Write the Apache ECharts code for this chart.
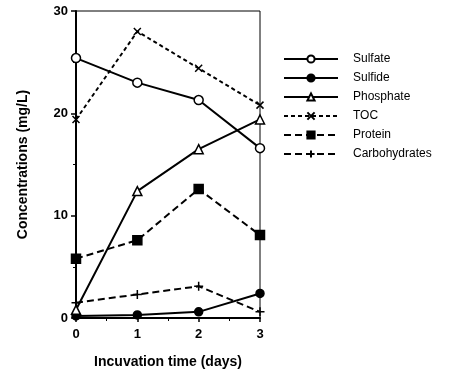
<!DOCTYPE html>
<html><head><meta charset="utf-8">
<script src="https://cdn.jsdelivr.net/npm/echarts@6/dist/echarts.min.js"></script>
<style>html,body{margin:0;padding:0;background:#fff}#c{width:465px;height:374px}</style>
</head><body><div id="c"></div>
<script>
const days = [0, 1, 2, 3];
const sulfate = [25.4, 23.0, 21.3, 16.6];
const sulfide = [0.2, 0.3, 0.6, 2.4];
const phosphate = [0.8, 12.4, 16.5, 19.4];
const toc = [19.4, 28.0, 24.4, 20.8];
const protein = [5.8, 7.6, 12.6, 8.1];
const carbohydrates = [1.5, 2.3, 3.1, 0.6];
const yTicks = [0, 10, 20, 30];

const FONT = 'Liberation Sans, Arial, sans-serif';
const xPath = 'path://M0,0L10,10M10,0L0,10';
const plusPath = 'path://M5,0L5,10M0,5L10,5';

function mk(name, vals, symbol, fill, dash, size) {
  return {
    name, type: 'line', data: days.map((d, i) => [d, vals[i]]),
    symbol, symbolSize: size, showAllSymbol: true,
    lineStyle: { color: '#000', width: 2, type: dash },
    itemStyle: { color: fill, borderColor: '#000', borderWidth: 1.5 },
    emphasis: { disabled: true }, animation: false
  };
}

const chart = echarts.init(document.getElementById('c'), null, { renderer: 'canvas' });
chart.setOption({
  backgroundColor: '#fff',
  animation: false,
  grid: { left: 76, right: 205, top: 11, bottom: 51, show: true, borderColor: '#000', borderWidth: 1, backgroundColor: 'transparent' },
  xAxis: {
    type: 'value', min: 0, max: 3, interval: 1,
    name: 'Incuvation time (days)', nameLocation: 'middle', nameGap: 37,
    nameTextStyle: { fontFamily: FONT, fontWeight: 'bold', fontSize: 14, color: '#000' },
    axisLine: { lineStyle: { color: '#000', width: 2 } },
    axisTick: { show: true, length: 4, lineStyle: { color: '#000', width: 1.5 } },
    minorTick: { show: true, splitNumber: 2, length: 3, lineStyle: { color: '#000' } },
    splitLine: { show: false },
    axisLabel: { fontFamily: FONT, fontWeight: 'bold', fontSize: 13, color: '#000', margin: 10 }
  },
  yAxis: {
    type: 'value', min: 0, max: 30, interval: 10,
    name: 'Concentrations (mg/L)', nameLocation: 'middle', nameGap: 46,
    nameTextStyle: { fontFamily: FONT, fontWeight: 'bold', fontSize: 14, color: '#000' },
    axisLine: { show: true, lineStyle: { color: '#000', width: 2 } },
    axisTick: { show: true, length: 5, lineStyle: { color: '#000', width: 1.5 } },
    minorTick: { show: true, splitNumber: 2, length: 3, lineStyle: { color: '#000' } },
    splitLine: { show: false },
    axisLabel: { fontFamily: FONT, fontWeight: 'bold', fontSize: 13, color: '#000', margin: 8,
      formatter: v => yTicks.includes(v) ? String(v) : '' }
  },
  legend: {
    orient: 'vertical', left: 283, top: 53, padding: 0, itemWidth: 54, itemHeight: 9, itemGap: 7,
    textStyle: { fontFamily: FONT, fontSize: 12, color: '#000', padding: [0, 0, 0, 10] },
    selectedMode: false,
    data: ['Sulfate', 'Sulfide', 'Phosphate', 'TOC', 'Protein', 'Carbohydrates']
  },
  series: [
    mk('Sulfate', sulfate, 'circle', '#fff', 'solid', 9),
    mk('Sulfide', sulfide, 'circle', '#000', 'solid', 8),
    mk('Phosphate', phosphate, 'triangle', '#fff', 'solid', 9),
    mk('TOC', toc, xPath, '#000', [4, 3], 7),
    mk('Protein', protein, 'rect', '#000', [7, 4], 9),
    mk('Carbohydrates', carbohydrates, plusPath, '#000', [7, 4], 9)
  ]
});
</script></body></html>
